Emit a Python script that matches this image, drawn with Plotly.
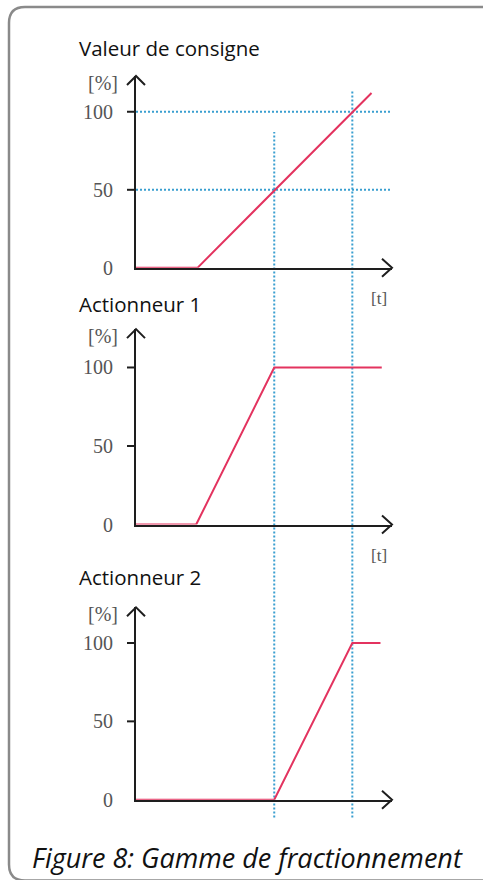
import plotly.graph_objects as go

# ---------------- data ----------------
panel_titles = ["Valeur de consigne", "Actionneur 1", "Actionneur 2"]
t_consigne = [0, 2.4, 9.2]
v_consigne = [0, 0, 112]
t_act1 = [0, 2.35, 5.4, 9.6]
v_act1 = [0, 0, 100, 100]
t_act2 = [0, 5.4, 8.45, 9.55]
v_act2 = [0, 0, 100, 100]
split_times = [5.4, 8.45]          # vertical dotted guides
consigne_levels = [50, 100]        # horizontal dotted guides (panel 1)
y_tick_vals = [0, 50, 100]
y_tick_text = ["0", "50", "100"]
caption = "Figure 8: Gamme de fractionnement"

# ---------------- layout geometry (pixels) ----------------
W, H = 483, 880
YS = 0.987  # observed vertical scale of the rendered page
X0PX, X1PX = 136, 392
T_MAX = 10
# per panel: pixel of value 0, pixel of value 100, pixel of arrow tip
panels_px = [(267.7, 111.7, 76), (524.3, 367.3, 329), (799.3, 642.7, 607)]

RED = "#e3335f"
BLUE = "#3a9fd0"
AXC = "#1e1e1e"
GRAY = "#555555"
DOT = "2px,2px"

def py(p):  # pixel y -> paper
    return 1 - (p / YS) / H

def px(p):
    return p / W

fig = go.Figure()
series = [(t_consigne, v_consigne), (t_act1, v_act1), (t_act2, v_act2)]
shapes = []
annotations = []

for i, ((t, v), (y0, y100, ytop)) in enumerate(zip(series, panels_px)):
    k = "" if i == 0 else str(i + 1)
    top_val = (y0 - ytop) / (y0 - y100) * 100
    fig.add_trace(go.Scatter(x=t, y=v, mode="lines", xaxis="x" + k, yaxis="y" + k,
                             line=dict(color=RED, width=2), cliponaxis=False,
                             showlegend=False, hoverinfo="skip"))
    fig.update_layout(**{
        "xaxis" + k: dict(domain=[px(X0PX), px(X1PX)], range=[0, T_MAX], anchor="y" + k,
                          showline=True, linecolor=AXC, linewidth=2, showgrid=False,
                          zeroline=False, showticklabels=False, ticks="", fixedrange=True),
        "yaxis" + k: dict(domain=[py(y0), py(ytop)], range=[0, top_val], anchor="x" + k,
                          showline=True, linecolor=AXC, linewidth=2, showgrid=False,
                          zeroline=False, tickvals=y_tick_vals, ticktext=y_tick_text,
                          ticks="", ticklabelstandoff=17,
                          tickfont=dict(family="Liberation Serif", size=20, color=GRAY),
                          fixedrange=True),
    })
    # y arrowhead
    shapes.append(dict(type="path", xref="paper", yref="paper", xsizemode="pixel",
                       ysizemode="pixel", xanchor=px(X0PX), yanchor=py(ytop),
                       path="M -9,-9 L 0,0 L 9,-9", line=dict(color=AXC, width=2)))
    # x arrowhead
    shapes.append(dict(type="path", xref="paper", yref="paper", xsizemode="pixel",
                       ysizemode="pixel", xanchor=px(X1PX), yanchor=py(y0),
                       path="M -10,9 L 0,0 L -10,-9", line=dict(color=AXC, width=2)))
    # tick marks at 50 and 100
    for tv in y_tick_vals[1:]:
        ty = y0 - tv / 100 * (y0 - y100)
        shapes.append(dict(type="path", xref="paper", yref="paper", xsizemode="pixel",
                           ysizemode="pixel", xanchor=px(X0PX), yanchor=py(ty),
                           path="M -9,0 L 0,0", line=dict(color=AXC, width=2)))
    # [%] label
    annotations.append(dict(text="[%]", xref="paper", yref="paper", x=px(103),
                            y=py(ytop + 7), xanchor="center", yanchor="middle",
                            showarrow=False,
                            font=dict(family="Liberation Serif", size=20, color=GRAY)))
    # panel title
    annotations.append(dict(text=panel_titles[i], xref="paper", yref="paper",
                            x=px(77), y=py([48, 304, 577][i]), xanchor="left",
                            yanchor="middle", showarrow=False,
                            font=dict(family="Open Sans", size=20.5, color="#111111")))
    if i < 2:
        annotations.append(dict(text="[t]", xref="paper", yref="paper", x=px(379),
                                y=py([298, 555][i]), xanchor="center", yanchor="middle",
                                showarrow=False,
                                font=dict(family="Liberation Serif", size=17, color=GRAY)))

# horizontal dotted guides in panel 1
for lv in consigne_levels:
    shapes.append(dict(type="line", xref="x", yref="y", x0=0, x1=T_MAX, y0=lv, y1=lv,
                       line=dict(color=BLUE, width=2, dash=DOT), layer="below"))

# vertical dotted guides across panels
y0_1, y100_1, _ = panels_px[0]
def p1_to_px(val):
    return y0_1 - val / 100 * (y0_1 - y100_1)
guide_tops = [87, 113]
for st, top in zip(split_times, guide_tops):
    shapes.append(dict(type="line", xref="x", yref="paper", x0=st, x1=st,
                       y0=py(817), y1=py(p1_to_px(top)),
                       line=dict(color=BLUE, width=2, dash=DOT), layer="below"))

# rounded frame
r = 16
L, T_, R, B = 9, 7, 490, 880
path = (f"M {px(L)},{py(T_ + r)} Q {px(L)},{py(T_)} {px(L + r)},{py(T_)} "
        f"L {px(R)},{py(T_)} L {px(R)},{py(B)} L {px(L + r)},{py(B)} "
        f"Q {px(L)},{py(B)} {px(L)},{py(B - r)} Z")
shapes.append(dict(type="path", xref="paper", yref="paper", path=path,
                   line=dict(color="#8a8a8a", width=2.5), layer="below"))

annotations.append(dict(text=caption, xref="paper", yref="paper", x=px(247), y=py(857),
                        xanchor="center", yanchor="middle", showarrow=False,
                        font=dict(family="Open Sans", size=27, color="#111111",
                                  style="italic")))

fig.update_layout(width=W, height=H, margin=dict(l=0, r=0, t=0, b=0),
                  paper_bgcolor="white", plot_bgcolor="white",
                  shapes=shapes, annotations=annotations, showlegend=False)

fig.write_html("out.html", config={"displayModeBar": False},
               post_script=("document.body.style.margin='0';"
                            "document.body.style.padding='0';"
                            "document.body.style.overflow='hidden';"
                            "document.documentElement.style.overflow='hidden';"))
